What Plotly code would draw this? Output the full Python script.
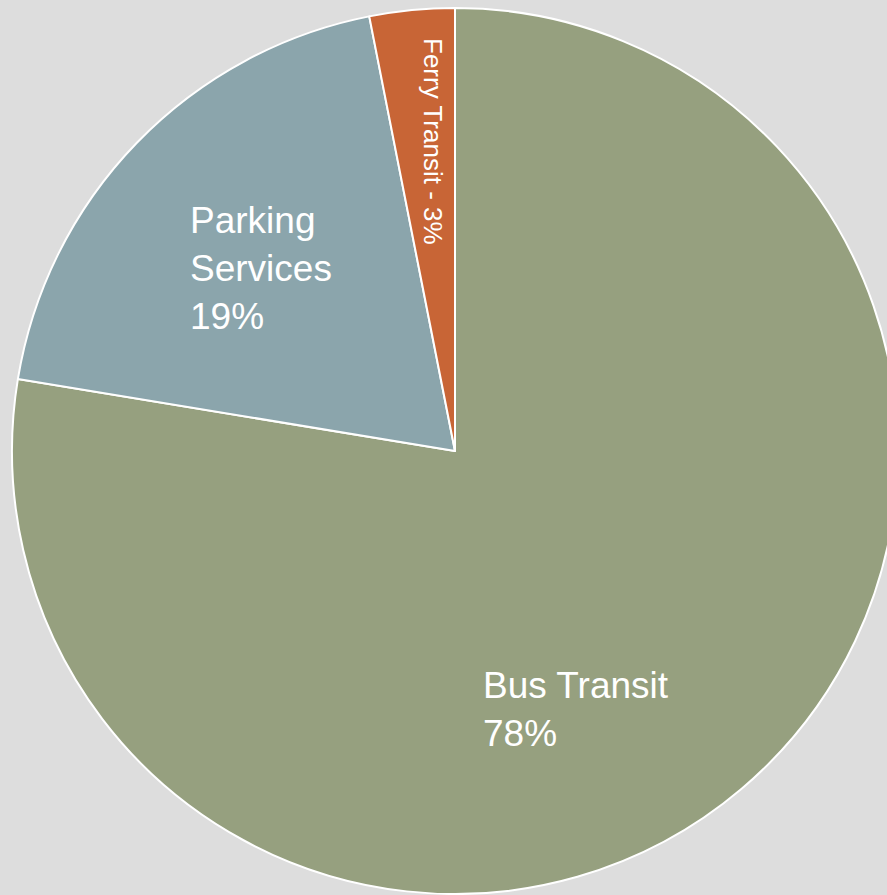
import plotly.graph_objects as go

categories = ["Bus Transit", "Parking Services", "Ferry Transit"]
values = [77.6, 19.3, 3.1]
label_texts = ["Bus Transit<br>78%", "Parking<br>Services<br>19%", "Ferry Transit - 3%"]
colors = ["#96a07f", "#8ba5ac", "#c86536"]

W, H = 898, 895

fig = go.Figure(
    go.Pie(
        labels=categories,
        values=values,
        sort=False,
        direction="clockwise",
        rotation=0,
        marker=dict(colors=colors, line=dict(color="#ffffff", width=2)),
        textinfo="none",
        hoverinfo="label+percent",
        domain=dict(x=[12 / W, 1], y=[0, 1 - 7 / H]),
        showlegend=False,
    )
)

font_family = "Liberation Sans, Arial"
fig.add_annotation(x=(484 - 3) / W, y=1 - 709 / H, xref="paper", yref="paper",
                   text=label_texts[0], showarrow=False, xanchor="left", yanchor="middle",
                   align="left", font=dict(size=37, color="white", family=font_family))
fig.add_annotation(x=(191 - 3) / W, y=1 - 269 / H, xref="paper", yref="paper",
                   text=label_texts[1], showarrow=False, xanchor="left", yanchor="middle",
                   align="left", font=dict(size=37, color="white", family=font_family))
fig.add_annotation(x=433 / W, y=1 - 141 / H, xref="paper", yref="paper",
                   text=label_texts[2], showarrow=False, textangle=90,
                   xanchor="center", yanchor="middle",
                   font=dict(size=26, color="white", family=font_family))

fig.update_layout(
    width=W, height=H,
    margin=dict(l=0, r=0, t=0, b=0),
    paper_bgcolor="#dddddd",
    plot_bgcolor="#dddddd",
)

fig.write_html(
    "out.html",
    config={"displayModeBar": False},
    post_script="document.body.style.margin='0';document.body.style.overflow='hidden';"
                "document.body.style.background='#dddddd';",
)
